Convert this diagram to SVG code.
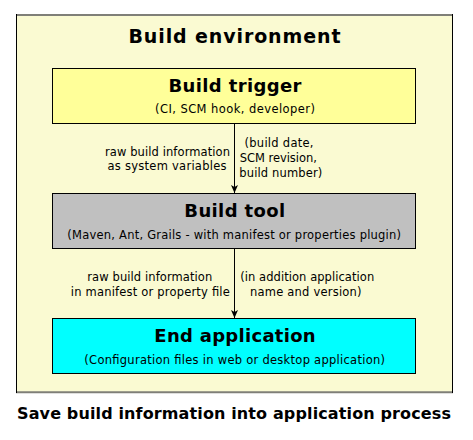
<svg xmlns="http://www.w3.org/2000/svg" width="473" height="440" viewBox="0 0 473 440">
<style>
text{font-family:"DejaVu Sans",Verdana,sans-serif;fill:#000}
.t{font-size:18px;font-weight:bold;text-anchor:middle}
.s{font-size:11.5px;text-anchor:middle}
.l{font-size:11.5px;text-anchor:middle}
.box{stroke:#000;stroke-width:1}
</style>
<defs>
<marker id="ah" markerWidth="10" markerHeight="10" refX="8" refY="4" orient="auto" markerUnits="userSpaceOnUse">
<path d="M0,0.5 L8,4 L0,7.5 L2,4 Z" fill="#000"/>
</marker>
</defs>
<rect width="473" height="440" fill="#fff"/>
<g id="env">
<rect x="16" y="14" width="437" height="379" fill="#fafad2"/>
<line x1="16" y1="15" x2="453" y2="15" stroke="#7f7f78" stroke-width="2"/>
<line x1="16" y1="392.3" x2="453" y2="392.3" stroke="#7f7f78" stroke-width="2"/>
<line x1="16.5" y1="14" x2="16.5" y2="393" stroke="#000" stroke-width="1"/>
<line x1="452.5" y1="14" x2="452.5" y2="393" stroke="#000" stroke-width="1"/>
<text x="234.5" y="42.7" class="t" style="font-size:19px" textLength="212" lengthAdjust="spacing">Build environment</text>
</g>
<g id="connectors">
<line x1="234.5" y1="123" x2="234.5" y2="193" stroke="#000" stroke-width="1" marker-end="url(#ah)"/>
<line x1="234.5" y1="248" x2="234.5" y2="318" stroke="#000" stroke-width="1" marker-end="url(#ah)"/>
<text class="l" x="167.5" y="155.7" textLength="125" lengthAdjust="spacing">raw build information</text>
<text class="l" x="167" y="170.3" textLength="119" lengthAdjust="spacing">as system variables</text>
<text class="l" x="279" y="147.3" textLength="69" lengthAdjust="spacing">(build date,</text>
<text class="l" x="278.3" y="162" textLength="77" lengthAdjust="spacing">SCM revision,</text>
<text class="l" x="280.8" y="176.7" textLength="83" lengthAdjust="spacing">build number)</text>
<text class="l" x="149.8" y="280.7" textLength="125" lengthAdjust="spacing">raw build information</text>
<text class="l" x="150.3" y="295.7" textLength="159" lengthAdjust="spacing">in manifest or property file</text>
<text class="l" x="307.2" y="280.7" textLength="134" lengthAdjust="spacing">(in addition application</text>
<text class="l" x="305.8" y="295.7" textLength="111.5" lengthAdjust="spacing">name and version)</text>
</g>
<g id="trigger">
<rect class="box" x="52.5" y="68.5" width="363" height="55" fill="#ffff99"/>
<text class="t" x="235" y="91.7" textLength="133" lengthAdjust="spacing">Build trigger</text>
<text class="s" x="235" y="112.7" textLength="160" lengthAdjust="spacing">(CI, SCM hook, developer)</text>
</g>
<g id="tool">
<rect class="box" x="52.5" y="193.5" width="363" height="55" fill="#c0c0c0"/>
<text class="t" x="234.7" y="216.7" textLength="100.7" lengthAdjust="spacing">Build tool</text>
<text class="s" x="234.2" y="239.3" textLength="333.7" lengthAdjust="spacing">(Maven, Ant, Grails - with manifest or properties plugin)</text>
</g>
<g id="app">
<rect class="box" x="52.5" y="318.5" width="363" height="55" fill="#00ffff"/>
<text class="t" x="235" y="342.3" textLength="161.4" lengthAdjust="spacing">End application</text>
<text class="s" x="234.7" y="364" textLength="300.7" lengthAdjust="spacing">(Configuration files in web or desktop application)</text>
</g>
<text x="234" y="419" style="font-size:16px;font-weight:bold;text-anchor:middle" textLength="434" lengthAdjust="spacing">Save build information into application process</text>
</svg>
